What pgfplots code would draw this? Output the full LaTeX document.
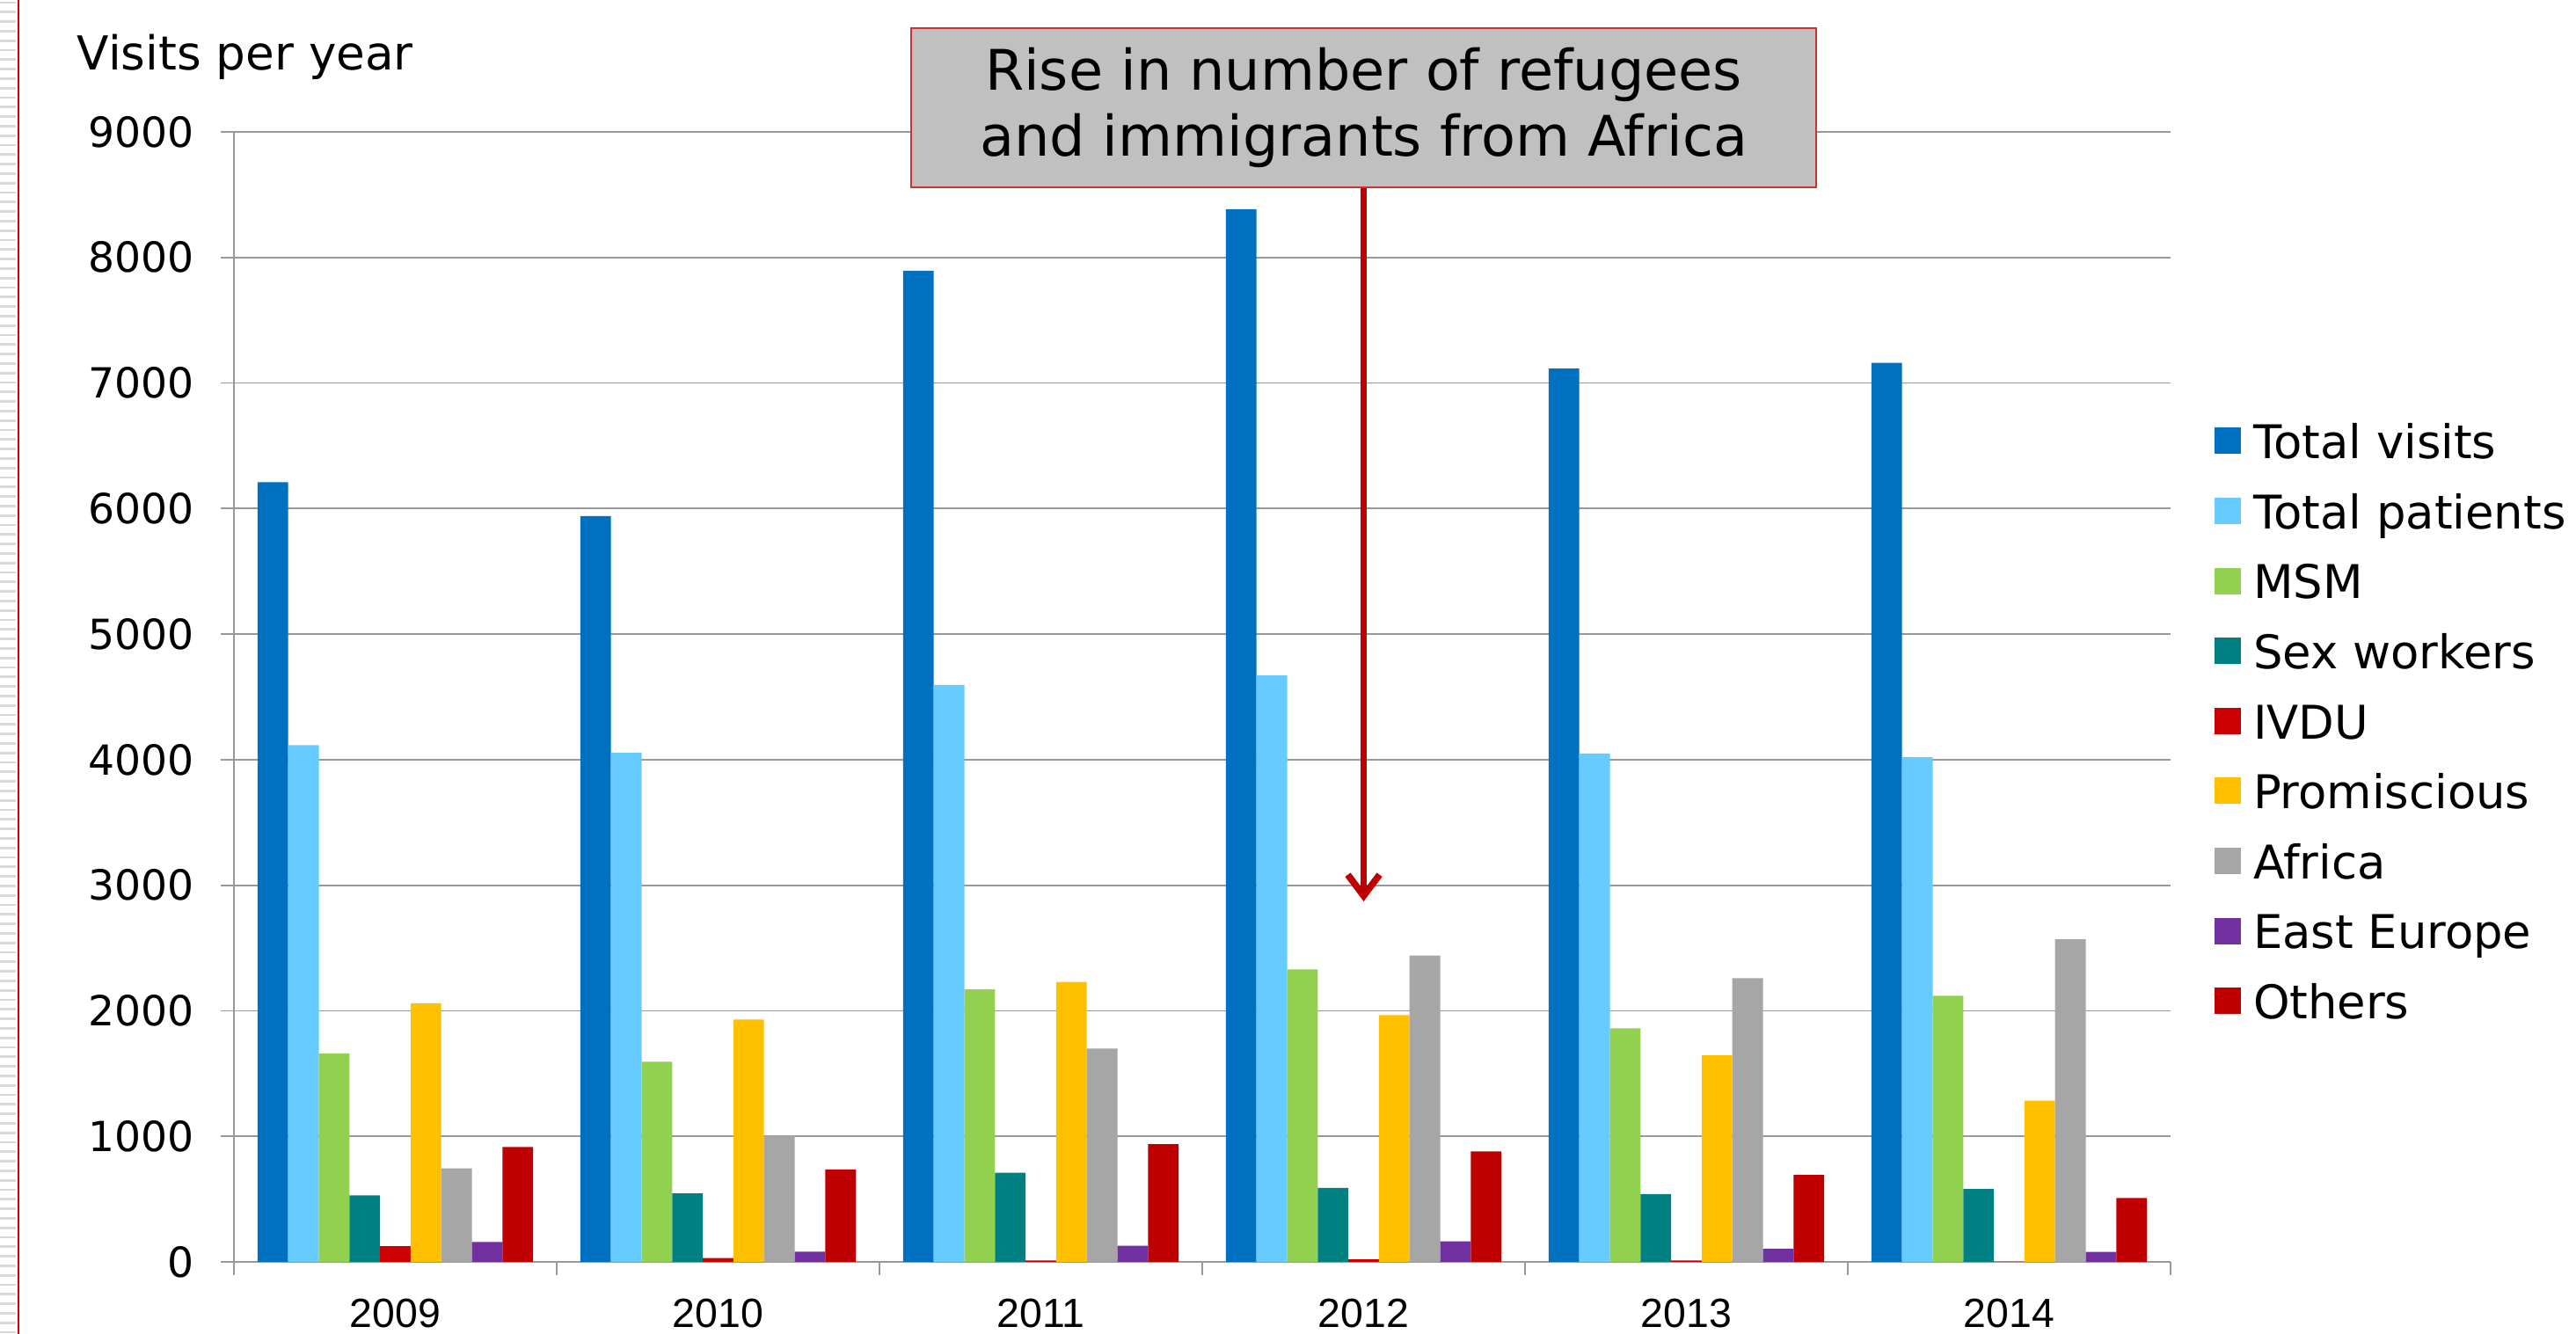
\documentclass[border=0pt]{standalone}
\usepackage{fontspec}
\setmainfont{DejaVu Sans}
\newfontfamily\yearfont{Liberation Sans}
\usepackage{pgfplots}
\usepackage{pgfplotstable}
\pgfplotsset{compat=1.18}
\usetikzlibrary{arrows.meta}

\definecolor{cVisits}{HTML}{0070C0}
\definecolor{cPatients}{HTML}{66CCFF}
\definecolor{cMSM}{HTML}{92D050}
\definecolor{cSexw}{HTML}{008080}
\definecolor{cIVDU}{HTML}{CC0000}
\definecolor{cProm}{HTML}{FFC000}
\definecolor{cAfrica}{HTML}{A6A6A6}
\definecolor{cEEur}{HTML}{7030A0}
\definecolor{cOthers}{HTML}{C00000}
\definecolor{gridgray}{HTML}{999999}
\definecolor{boxgray}{HTML}{C0C0C0}
\definecolor{boxred}{HTML}{D03030}
\definecolor{arrowred}{HTML}{C00000}

% visits per year, 2009 (0) to 2014 (5)
\pgfplotstableread{
idx visits patients msm sexw ivdu prom africa eeur others
0   6210   4115     1660 530  125  2060 745    158  915
1   5940   4055     1595 545  30   1930 1005   81   737
2   7895   4595     2170 710  12   2230 1700   128  937
3   8385   4670     2330 590  20   1965 2440   163  879
4   7115   4050     1860 540  12   1645 2260   105  693
5   7160   4020     2120 580  0    1285 2570   79   509
}\visitdata

\begin{document}
\begin{tikzpicture}
\begin{axis}[
  scale only axis,
  width=550.5pt, height=321.25pt,
  ybar=0pt, bar width=8.7pt,
  xmin=-0.5, xmax=5.5, ymin=0, ymax=9000,
  axis x line=bottom, axis y line=left,
  axis line style={-, draw=gridgray, line width=0.45pt},
  ytick={0,1000,...,9000},
  ymajorgrids,
  grid style={draw=gridgray, line width=0.45pt},
  xtick={-0.5,0.5,...,5.5}, xticklabels={},
  extra x ticks={0,1,2,3,4,5},
  extra x tick labels={2009,2010,2011,2012,2013,2014},
  extra x tick style={major tick length=0pt},
  tick align=outside, major tick length=3.8pt,
  tick style={draw=gridgray, line width=0.45pt},
  /pgf/number format/1000 sep={},
  /pgf/number format/assume math mode=true,
  yticklabel style={font=\fontsize{11.8}{14}\selectfont, xshift=-4pt},
  xticklabel style={font=\yearfont\fontsize{11.6}{13}\selectfont, yshift=-7pt},
  legend cell align=left,
  legend image code/.code={\fill[#1] (0pt,-2.2pt) rectangle (7.5pt,5.3pt);},
  legend style={draw=none, fill=none, inner sep=0pt, outer sep=0pt,
    at={(1,1)}, anchor=north west, xshift=12.5pt, yshift=-82.9pt,
    font=\fontsize{13.2}{15}\selectfont,
    nodes={inner sep=0pt, text height=10pt, text depth=3pt},
    row sep=6.9pt, column sep=3.5pt},
  clip=false,
]
\addplot[fill=cVisits, draw=none] table[x=idx, y=visits] {\visitdata};
\addlegendentry{Total visits}
\addplot[fill=cPatients, draw=none] table[x=idx, y=patients] {\visitdata};
\addlegendentry{Total patients}
\addplot[fill=cMSM, draw=none] table[x=idx, y=msm] {\visitdata};
\addlegendentry{MSM}
\addplot[fill=cSexw, draw=none] table[x=idx, y=sexw] {\visitdata};
\addlegendentry{Sex workers}
\addplot[fill=cIVDU, draw=none] table[x=idx, y=ivdu] {\visitdata};
\addlegendentry{IVDU}
\addplot[fill=cProm, draw=none] table[x=idx, y=prom] {\visitdata};
\addlegendentry{Promiscious}
\addplot[fill=cAfrica, draw=none] table[x=idx, y=africa] {\visitdata};
\addlegendentry{Africa}
\addplot[fill=cEEur, draw=none] table[x=idx, y=eeur] {\visitdata};
\addlegendentry{East Europe}
\addplot[fill=cOthers, draw=none] table[x=idx, y=others] {\visitdata};
\addlegendentry{Others}

% annotation box and arrow pointing at 2012
\draw[arrowred, line width=1.9pt, -{Straight Barb[length=6pt,width=9pt]}]
  (axis cs:3,8559) -- (axis cs:3,2871);
\node[fill=boxgray, draw=boxred, line width=0.6pt,
  minimum width=257.25pt, minimum height=45.25pt, inner sep=0pt,
  align=center, font=\fontsize{15.9}{18.75}\selectfont]
  at (axis cs:3,9193) {Rise in number of refugees\\and immigrants from Africa};
\end{axis}

\node[anchor=base west, inner sep=0pt, font=\fontsize{13.3}{16}\selectfont]
  at (-44.75pt,338.75pt) {Visits per year};

% slide edge on the left
\fill[white] (-66.5pt,-20.5pt) rectangle (-61.5pt,358.75pt);
\foreach \k in {0,...,140} {
  \draw[gray!30, line width=0.7pt] (-66.5pt,-20pt+\k*2.7pt) -- (-62pt,-20pt+\k*2.7pt);
}
\draw[red!85!black, line width=0.5pt] (-61.25pt,-20.5pt) -- (-61.25pt,358.75pt);

\pgfresetboundingbox
\useasboundingbox (-66.5pt,-20.5pt) rectangle (665.75pt,358.75pt);
\end{tikzpicture}
\end{document}
